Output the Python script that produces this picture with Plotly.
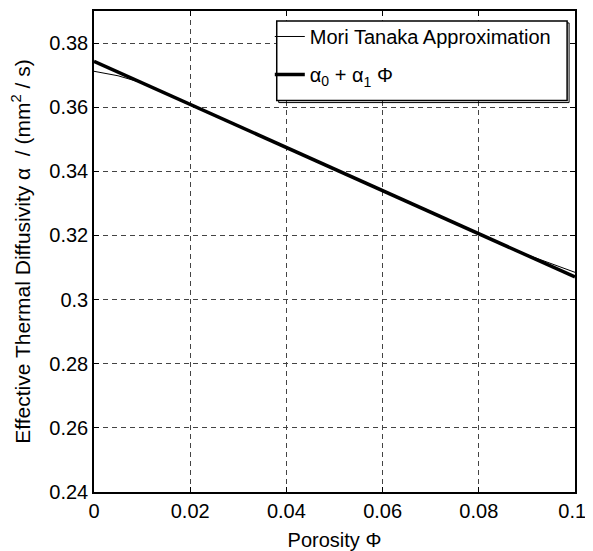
import plotly.graph_objects as go

# Data
porosity_mt = [0, 0.005, 0.01, 0.02, 0.03, 0.04, 0.05, 0.06, 0.07, 0.08, 0.09, 0.1]
alpha_mt = [0.3712, 0.3698, 0.3676, 0.3607, 0.3540, 0.3473, 0.3406, 0.3339, 0.3272, 0.3205, 0.3140, 0.3085]

porosity_fit = [0, 0.1]
alpha_fit = [0.3743, 0.3071]

x_ticks = [0, 0.02, 0.04, 0.06, 0.08, 0.1]
x_tick_labels = ["0", "0.02", "0.04", "0.06", "0.08", "0.1\u00a0"]
y_ticks = [0.24, 0.26, 0.28, 0.3, 0.32, 0.34, 0.36, 0.38]
y_tick_labels = ["0.24", "0.26", "0.28", "0.3", "0.32", "0.34", "0.36", "0.38"]

FONT = "Liberation Sans, Arial, sans-serif"

fig = go.Figure()
fig.add_trace(go.Scatter(x=porosity_mt, y=alpha_mt, mode="lines",
                         line=dict(color="black", width=1),
                         name="Mori Tanaka Approximation", legend="legend"))
fig.add_trace(go.Scatter(x=porosity_fit, y=alpha_fit, mode="lines",
                         line=dict(color="black", width=3.5),
                         name="α<sub>0</sub> + α<sub>1</sub> Φ", legend="legend2"))

axis_common = dict(
    showline=True, linecolor="black", linewidth=1.5, mirror="ticks",
    ticks="inside", ticklen=5, tickcolor="black", tickwidth=1,
    showgrid=True, gridcolor="#444", gridwidth=1, griddash="5px,4px",
    zeroline=False, tickfont=dict(family=FONT, size=20, color="black"),
    ticklabeloverflow="allow",
)

fig.update_xaxes(range=[0, 0.1], tickvals=x_ticks, ticktext=x_tick_labels,
                 title=dict(text="Porosity Φ", font=dict(family=FONT, size=20, color="black"), standoff=12),
                 **axis_common)
fig.update_yaxes(range=[0.24, 0.39], tickvals=y_ticks, ticktext=y_tick_labels,
                 title=dict(text="Effective Thermal Diffusivity α  / (mm<sup>2</sup> / s)",
                            font=dict(family=FONT, size=21, color="black"), standoff=18),
                 **axis_common)

# legend box shadow (right/bottom edge) and white panel with border
fig.add_shape(type="rect", xref="paper", yref="paper",
              x0=0.3840, x1=0.9877, y0=0.8096, y1=0.9752,
              line=dict(color="black", width=1), fillcolor="rgba(0,0,0,0)", layer="above")
fig.add_shape(type="rect", xref="paper", yref="paper",
              x0=0.3799, x1=0.9836, y0=0.8137, y1=0.9793,
              line=dict(color="black", width=1.5), fillcolor="white", layer="above")

legend_style = dict(bgcolor="rgba(0,0,0,0)", borderwidth=0, itemwidth=30,
                    font=dict(family=FONT, size=20, color="black"),
                    xanchor="left", yanchor="middle")

fig.update_layout(
    width=585, height=543,
    margin=dict(l=86, r=12, t=1, b=59),
    plot_bgcolor="white", paper_bgcolor="white",
    font=dict(family=FONT, color="black"),
    legend=dict(x=0.3655, y=0.947, **legend_style),
    legend2=dict(x=0.3655, y=0.868, **legend_style),
    showlegend=True,
)

fig.write_html("out.html", config={"displayModeBar": False})
